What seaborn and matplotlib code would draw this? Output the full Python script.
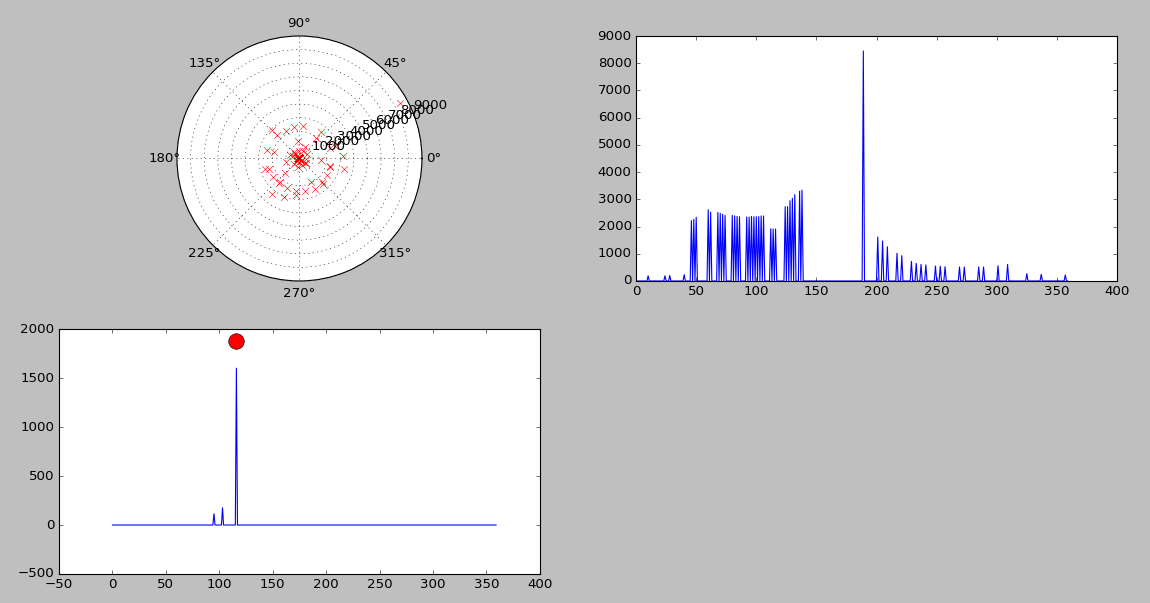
import numpy as np
import pandas as pd
import matplotlib
matplotlib.use("Agg")
import matplotlib.pyplot as plt
import seaborn as sns

plt.style.use("classic")

peak_angles = [10, 24, 28, 40, 46, 48, 50, 60, 62, 68, 70, 72, 74, 80, 82, 84, 86,
               92, 94, 96, 98, 100, 102, 104, 106, 112, 114, 116,
               124, 126, 128, 130, 132, 136, 138, 189,
               201, 205, 209, 217, 221, 229, 233, 237, 241, 249, 253, 257,
               269, 273, 285, 289, 301, 309, 325, 337, 357]
peak_values = [190, 190, 200, 230, 2215, 2265, 2340, 2620, 2530, 2520, 2485, 2450, 2410,
               2410, 2390, 2375, 2360, 2350, 2350, 2375, 2360, 2360, 2365, 2390, 2390,
               1920, 1910, 1910, 2730, 2730, 2950, 3035, 3170, 3300, 3340, 8450,
               1615, 1470, 1260, 1015, 930, 720, 650, 610, 590, 550, 540, 525,
               515, 515, 515, 515, 560, 610, 270, 245, 220]
filtered_angles = [95, 103, 116]
filtered_values = [115, 175, 1600]
best_angle = [116]
best_value = [1880]
radial_ticks = [1000, 2000, 3000, 4000, 5000, 6000, 7000, 8000, 9000]

angles = np.arange(360)
spectrum = pd.Series(0.0, index=angles)
spectrum.loc[peak_angles] = peak_values
filtered = pd.Series(0.0, index=angles)
filtered.loc[filtered_angles] = filtered_values

fig = plt.figure(figsize=(11.5 * 100 / 80, 6.03 * 100 / 80), dpi=80, facecolor="0.75")
gs = fig.add_gridspec(2, 2, left=59 / 1150, right=1117 / 1150, top=1 - 36 / 603,
                      bottom=1 - 574 / 603, wspace=0.2, hspace=0.196)

ax_polar = fig.add_subplot(gs[0, 0], projection="polar")
sns.scatterplot(x=angles.astype(float), y=spectrum.values, marker="x", color="r",
                s=36, linewidth=0.5, ax=ax_polar, legend=False, clip_on=True)
ax_polar.set_ylim(0, 9000)
ax_polar.set_yticks(radial_ticks)
ax_polar.set_xlabel("")
ax_polar.set_ylabel("")

ax_line = fig.add_subplot(gs[0, 1])
sns.lineplot(x=angles, y=spectrum.values, color="b", linewidth=1, estimator=None,
             ax=ax_line)
ax_line.set_xlim(0, 400)
ax_line.set_ylim(0, 9000)

ax_filt = fig.add_subplot(gs[1, 0])
sns.lineplot(x=angles, y=filtered.values, color="b", linewidth=1, estimator=None,
             ax=ax_filt)
sns.scatterplot(x=best_angle, y=best_value, color="r", edgecolor="k", s=196,
                linewidth=0.5, ax=ax_filt, legend=False, zorder=3)
ax_filt.set_xlim(-50, 400)
ax_filt.set_ylim(-500, 2000)

fig.savefig("out.png", dpi=80, facecolor="0.75")
